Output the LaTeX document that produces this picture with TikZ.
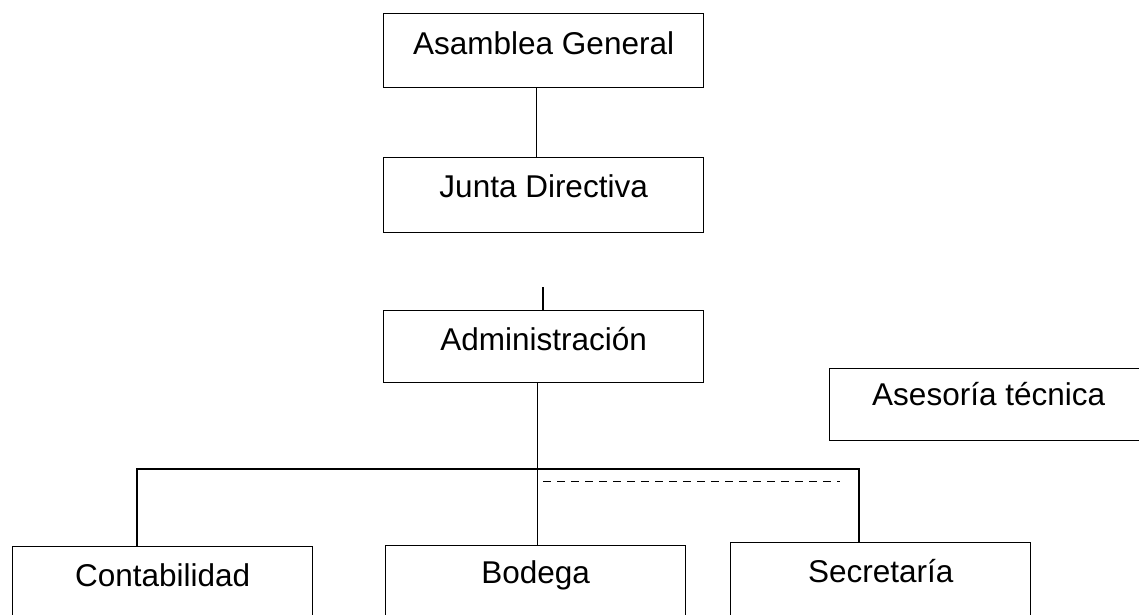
\documentclass[tikz,border=0pt]{standalone}
\usepackage{fontspec}
\setmainfont{Liberation Sans}
\begin{document}
\begin{tikzpicture}[x=1pt,y=-1pt,
  line width=1.3pt,
  orgbox/.style={draw, anchor=north west, inner sep=0pt, align=center,
    font=\fontsize{31.5}{36}\selectfont},
  link/.style={line width=1.3pt},
  dashlink/.style={line width=1pt, dash pattern=on 8pt off 6pt}]
\useasboundingbox (0,0) rectangle (1139,614);
\clip (0,0) rectangle (1139,614);
\node[orgbox, minimum width=320pt, text height=41pt, text depth=33pt] (asamblea) at (383,13) {Asamblea General};
\node[orgbox, minimum width=320pt, text height=40pt, text depth=35pt] (junta) at (383,157) {Junta Directiva};
\node[orgbox, minimum width=320pt, text height=40pt, text depth=32pt] (admin) at (383,310) {Administración};
\node[orgbox, minimum width=318pt, text height=37pt, text depth=35pt] (asesoria) at (829,368) {Asesoría técnica};
\node[orgbox, minimum width=300pt, text height=40pt, text depth=120pt] (contab) at (12,546) {Contabilidad};
\node[orgbox, minimum width=300pt, text height=38pt, text depth=120pt] (bodega) at (385,545) {Bodega};
\node[orgbox, minimum width=300pt, text height=40pt, text depth=120pt] (secre) at (730,542) {Secretaría};
\coordinate (stub) at (543,287);
\coordinate (busL) at (137,469);
\coordinate (busR) at (859,469);
\coordinate (dashA) at (543,481);
\coordinate (dashB) at (840,481);
\draw[link] ([xshift=-7pt]asamblea.south) -- ([xshift=-7pt]junta.north);
\draw[link] (stub) -- (stub |- admin.north);
\draw[link] ([xshift=-6pt]admin.south) -- ([xshift=-6pt]admin.south |- bodega.north);
\draw[link] (busL |- contab.north) -- (busL) -- (busR) -- (busR |- secre.north);
\draw[dashlink] (dashA) -- (dashB);
\end{tikzpicture}
\end{document}
